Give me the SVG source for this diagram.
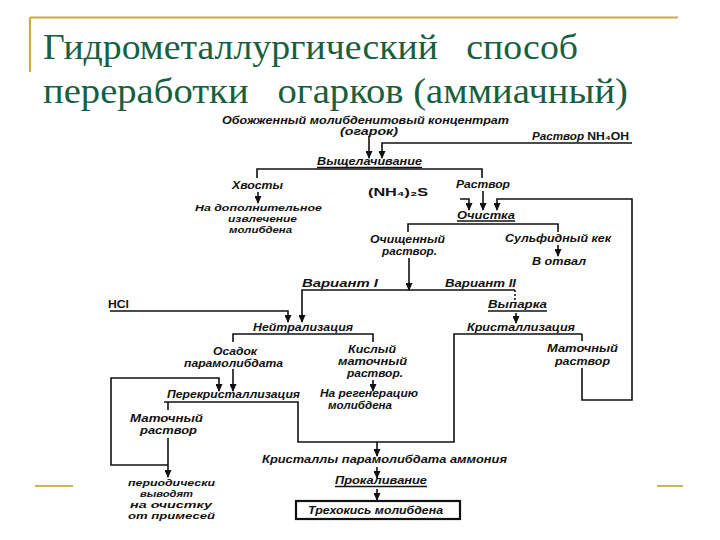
<svg xmlns="http://www.w3.org/2000/svg" width="720" height="540" viewBox="0 0 720 540">
<style>
.title{font-family:"Liberation Serif","Times New Roman",serif;font-size:36px;fill:#17603f;white-space:pre}
.l{font-family:"Liberation Sans",Arial,sans-serif;font-size:10.5px;font-style:italic;font-weight:bold;fill:#111}
.s{font-size:9.3px}
.f{font-family:"Liberation Sans",Arial,sans-serif;font-size:11px;font-weight:bold;fill:#111}
.c{fill:none;stroke:#111;stroke-width:1.6}
.a{fill:none;stroke:#111;stroke-width:1.6;marker-end:url(#arr)}
.u{stroke:#111;stroke-width:1.3}
.gold{stroke:#c9ab45;stroke-width:2.2;fill:none}
</style>
<defs>
<marker id="arr" markerUnits="userSpaceOnUse" markerWidth="8" markerHeight="7" refX="7" refY="3.5" orient="auto">
<path d="M0,0 L8,3.5 L0,7 z" fill="#111"/>
</marker>
</defs>
<rect width="720" height="540" fill="#fff"/>
<g id="frame">
<path class="gold" d="M30 17.5 H678 M30 17.5 V72"/>
<path class="gold" d="M35 486 H73 M657 486 H683" stroke-opacity="0.9"/>
</g>
<g id="title">
<text class="title" x="43" y="59" textLength="535" lengthAdjust="spacingAndGlyphs">Гидрометаллургический   способ</text>
<text class="title" x="43" y="103" textLength="585" lengthAdjust="spacingAndGlyphs">переработки   огарков (аммиачный)</text>
</g>
<g id="connectors">
<path class="a" d="M369 136 V158"/>
<path class="a" d="M632 143 H382 V158"/>
<path class="c" d="M257 178 V169 H482 V178"/>
<path class="a" d="M258 192 V203"/>
<path class="a" d="M483 191 V210"/>
<path class="a" d="M460 199 H469 V210"/>
<path class="a" d="M582 368 V400 H632 V199 H497 V210"/>
<path class="c" d="M582 334 V341"/>
<path class="c" d="M408 232 V224 H558 V232"/>
<path class="a" d="M558 245 V256"/>
<path class="a" d="M409 258 V290"/>
<path class="a" d="M515 290 H302 V322"/>
<path class="c" d="M515 290 V300" stroke-width="1" stroke-dasharray="2 2"/>
<path class="a" d="M110 311 H288 V322"/>
<path class="a" d="M516 313 V323"/>
<path class="c" d="M233 342 V334 H373 V342"/>
<path class="a" d="M233 369 V391"/>
<path class="a" d="M373 380 V391"/>
<path class="a" d="M168 465 H111 V378 H219 V391"/>
<path class="c" d="M164 402 H298 V442 H454 V334 H582"/>
<path class="c" d="M168 402 V410"/>
<path class="a" d="M168 438 V477"/>
<path class="a" d="M377 442 V456"/>
<path class="a" d="M377 467 V478"/>
<path class="a" d="M377 489 V500"/>
</g>
<g id="n-concentrate">
<text class="l" x="222" y="124" textLength="287" lengthAdjust="spacingAndGlyphs">Обожженный молибденитовый концентрат</text>
<text class="l" x="340" y="135" textLength="58" lengthAdjust="spacingAndGlyphs">(огарок)</text>
</g>
<g id="n-nh4oh">
<text class="l" x="532" y="140" textLength="97" lengthAdjust="spacingAndGlyphs">Раствор <tspan class="f" font-style="normal">NH₄OH</tspan></text>
</g>
<g id="n-leaching">
<text class="l" x="317" y="165" textLength="105" lengthAdjust="spacingAndGlyphs">Выщелачивание</text>
<line class="u" x1="317" y1="167.5" x2="422" y2="167.5"/>
</g>
<g id="n-tails">
<text class="l" x="232" y="189" textLength="51" lengthAdjust="spacingAndGlyphs">Хвосты</text>
</g>
<g id="n-extra">
<text class="l s" x="195" y="211" textLength="127" lengthAdjust="spacingAndGlyphs">На дополнительное</text>
<text class="l s" x="228" y="222" textLength="69" lengthAdjust="spacingAndGlyphs">извлечение</text>
<text class="l s" x="229" y="233" textLength="63" lengthAdjust="spacingAndGlyphs">молибдена</text>
</g>
<g id="n-nh4s">
<text class="f" x="368" y="196" font-size="12" textLength="60" lengthAdjust="spacingAndGlyphs">(NH₄)₂S</text>
</g>
<g id="n-solution">
<text class="l" x="456" y="188" textLength="54" lengthAdjust="spacingAndGlyphs">Раствор</text>
</g>
<g id="n-purification">
<text class="l" x="457" y="219" textLength="58" lengthAdjust="spacingAndGlyphs">Очистка</text>
<line class="u" x1="457" y1="221" x2="515" y2="221"/>
</g>
<g id="n-purified">
<text class="l" x="370" y="243" textLength="75" lengthAdjust="spacingAndGlyphs">Очищенный</text>
<text class="l" x="382" y="255" textLength="55" lengthAdjust="spacingAndGlyphs">раствор.</text>
</g>
<g id="n-sulfide">
<text class="l" x="505" y="242" textLength="106" lengthAdjust="spacingAndGlyphs">Сульфидный кек</text>
</g>
<g id="n-dump">
<text class="l" x="532" y="265" textLength="54" lengthAdjust="spacingAndGlyphs">В отвал</text>
</g>
<g id="n-var1">
<text class="l" x="302" y="287" textLength="76" lengthAdjust="spacingAndGlyphs">Вариант I</text>
</g>
<g id="n-var2">
<text class="l" x="445" y="287" textLength="71" lengthAdjust="spacingAndGlyphs">Вариант II</text>
</g>
<g id="n-hcl">
<text class="f" x="108" y="308" textLength="21" lengthAdjust="spacingAndGlyphs">HCl</text>
</g>
<g id="n-neutral">
<text class="l" x="253" y="331" textLength="100" lengthAdjust="spacingAndGlyphs">Нейтрализация</text>
</g>
<g id="n-precip">
<text class="l" x="213" y="355" textLength="44" lengthAdjust="spacingAndGlyphs">Осадок</text>
<text class="l" x="184" y="367" textLength="99" lengthAdjust="spacingAndGlyphs">парамолибдата</text>
</g>
<g id="n-acid">
<text class="l" x="348" y="353" textLength="48" lengthAdjust="spacingAndGlyphs">Кислый</text>
<text class="l" x="338" y="364.5" textLength="69" lengthAdjust="spacingAndGlyphs">маточный</text>
<text class="l" x="347" y="377" textLength="56" lengthAdjust="spacingAndGlyphs">раствор.</text>
</g>
<g id="n-regen">
<text class="l" x="320" y="397" textLength="98" lengthAdjust="spacingAndGlyphs">На регенерацию</text>
<text class="l" x="328" y="408.5" textLength="64" lengthAdjust="spacingAndGlyphs">молибдена</text>
</g>
<g id="n-recryst">
<text class="l" x="167" y="398" textLength="133" lengthAdjust="spacingAndGlyphs">Перекристаллизация</text>
</g>
<g id="n-mother1">
<text class="l" x="130" y="422" textLength="73" lengthAdjust="spacingAndGlyphs">Маточный</text>
<text class="l" x="140" y="433.5" textLength="57" lengthAdjust="spacingAndGlyphs">раствор</text>
</g>
<g id="n-periodic">
<text class="l s" x="128" y="486" textLength="87" lengthAdjust="spacingAndGlyphs">периодически</text>
<text class="l s" x="140" y="497" textLength="53" lengthAdjust="spacingAndGlyphs">выводят</text>
<text class="l s" x="130" y="508" textLength="82" lengthAdjust="spacingAndGlyphs">на очистку</text>
<text class="l s" x="128" y="519" textLength="87" lengthAdjust="spacingAndGlyphs">от примесей</text>
</g>
<g id="n-crystals">
<text class="l" x="262" y="463" textLength="245" lengthAdjust="spacingAndGlyphs">Кристаллы парамолибдата аммония</text>
</g>
<g id="n-calcination">
<text class="l" x="335" y="484" textLength="92" lengthAdjust="spacingAndGlyphs">Прокаливание</text>
<line class="u" x1="335" y1="486.5" x2="427" y2="486.5"/>
</g>
<g id="n-trioxide">
<rect x="296" y="501" width="164" height="18" fill="none" stroke="#111" stroke-width="2.2"/>
<text class="l" x="308" y="514" textLength="135" lengthAdjust="spacingAndGlyphs">Трехокись молибдена</text>
</g>
<g id="n-evap">
<text class="l" x="488" y="308" textLength="59" lengthAdjust="spacingAndGlyphs">Выпарка</text>
<line class="u" x1="488" y1="311" x2="547" y2="311" stroke-width="1.8"/>
</g>
<g id="n-cryst">
<text class="l" x="467" y="331" textLength="108" lengthAdjust="spacingAndGlyphs">Кристаллизация</text>
</g>
<g id="n-mother2">
<text class="l" x="547" y="352" textLength="71" lengthAdjust="spacingAndGlyphs">Маточный</text>
<text class="l" x="555" y="364.5" textLength="55" lengthAdjust="spacingAndGlyphs">раствор</text>
</g>
</svg>
